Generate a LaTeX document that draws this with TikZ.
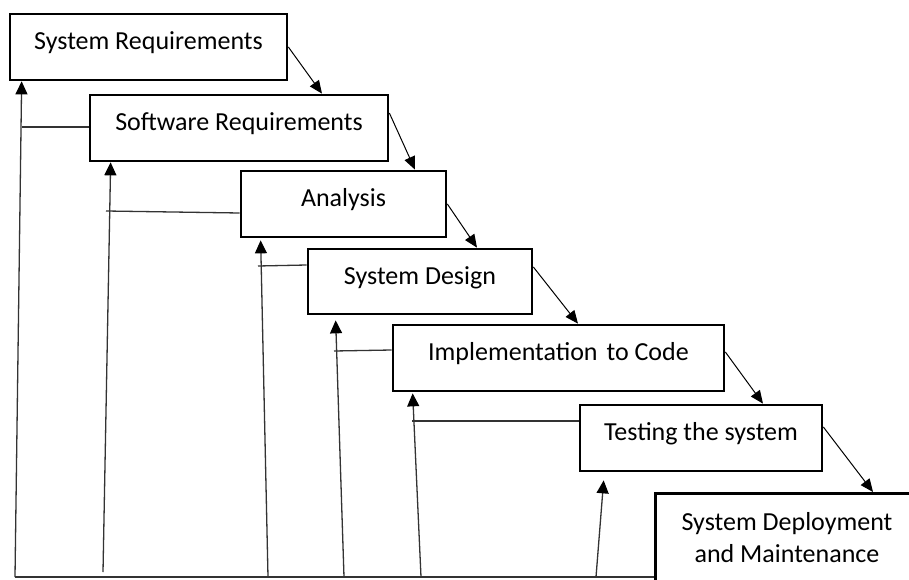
\documentclass[tikz,border=0pt]{standalone}
\usepackage{fontspec}
\setmainfont{Carlito}
\usetikzlibrary{arrows.meta,calc}
\begin{document}
\begin{tikzpicture}[x=1pt,y=-1pt,
  stage/.style={draw=black, line width=2.7pt, rectangle, inner sep=0pt,
    font=\fontsize{26}{32}\selectfont, text height=18pt, text depth=13pt},
  flow/.style={draw=black, line width=1pt, -{Triangle[length=13pt,width=11pt]}},
  back/.style={draw=black!80, line width=1.3pt},
  backup/.style={back, -{Triangle[length=13pt,width=12pt,color=black]}}]
\clip (0,0) rectangle (909,580);

% the stages of the waterfall
\node[stage, minimum width=277pt, minimum height=66pt] (sysreq)   at (148.5,47)  {System Requirements};
\node[stage, minimum width=298pt, minimum height=66pt] (swreq)    at (239,128)   {Software Requirements};
\node[stage, minimum width=205pt, minimum height=66pt] (analysis) at (343.5,204) {Analysis};
\node[stage, minimum width=224pt, minimum height=65pt] (design)   at (420,281.5) {System Design};
\node[stage, minimum width=331pt, minimum height=66pt] (impl)     at (558.5,358) {Implementation\hspace{0.12em} to Code};
\node[stage, minimum width=242pt, minimum height=66pt] (testing)  at (701,438)   {Testing the system};
\node[stage, minimum width=266pt, minimum height=130pt, anchor=north west] (deploy) at (654,492) {};
\node[font=\fontsize{26}{32}\selectfont, align=center, inner sep=0pt] (deploytext) at (787,538) {System Deployment\\and Maintenance};

% downward flow from stage to stage
\draw[flow] (sysreq.east) -- ($(swreq.north)+(83,0)$);
\draw[flow] ($(swreq.east)+(0,-15)$) -- ($(analysis.north)+(71.5,0)$);
\draw[flow] (analysis.east) -- ($(design.north)+(57,0)$);
\draw[flow] ($(design.east)+(0,-14.5)$) -- ($(impl.north)+(19.5,0)$);
\draw[flow] ($(impl.east)+(0,-6)$) -- ($(testing.north)+(62,0)$);
\draw[flow] ($(testing.east)+(0,-11)$) -- ($(deploy.north west)+(219,0)$);

% feedback paths back to earlier stages
\coordinate (base) at (15,577);
\coordinate (b2) at (103,572);
\coordinate (b3) at (268,577);
\coordinate (b4) at (344,577);
\coordinate (b5) at (421,577);
\coordinate (b6) at (596,577);
\draw[back] (base) -- (base -| deploy.west);
\draw[backup] (base) -- ($(sysreq.south west)+(13,0)$);
\draw[backup] (b2) -- ($(swreq.south west)+(22,0)$);
\draw[backup] (b3) -- ($(analysis.south west)+(21,2)$);
\draw[backup] (b4) -- ($(design.south west)+(29,5)$);
\draw[backup] (b5) -- ($(impl.south west)+(21,1)$);
\draw[backup] (b6) -- ($(testing.south west)+(25,8)$);

\coordinate (j1) at (22,127);
\coordinate (j2) at (106,211);
\coordinate (j3) at (258,266);
\coordinate (j4) at (334,351);
\coordinate (j5) at (412,421);
\draw[back] ($(swreq.west)+(0,-1)$) -- (j1);
\draw[back] ($(analysis.west)+(0,9)$) -- (j2);
\draw[back] ($(design.west)+(0,-16.5)$) -- (j3);
\draw[back] ($(impl.west)+(0,-8)$) -- (j4);
\draw[back] ($(testing.west)+(0,-17)$) -- (j5);
\end{tikzpicture}
\end{document}
